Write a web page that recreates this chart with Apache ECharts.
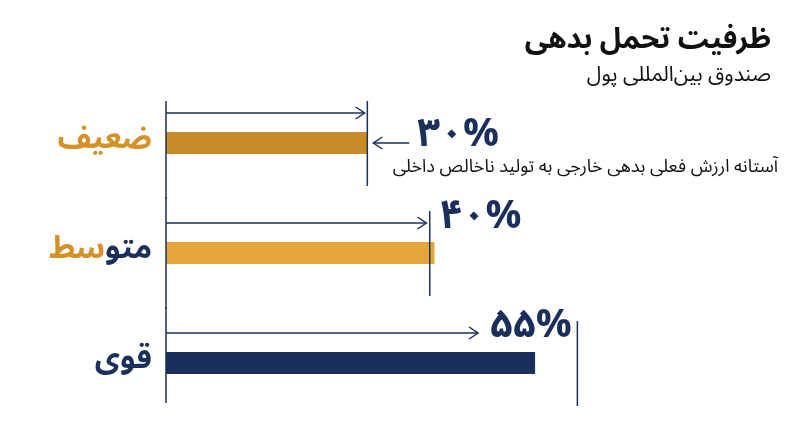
<!DOCTYPE html>
<html><head><meta charset="utf-8">
<script src="https://cdn.jsdelivr.net/npm/echarts@6/dist/echarts.min.js"></script>
<style>html,body{margin:0;background:#fff}#c{width:800px;height:447px}</style>
</head><body><div id="c"></div>
<script>
const categories = ['ضعیف', 'متوسط', 'قوی'];
const values = [30, 40, 55];
const valueLabels = ['۳۰%', '۴۰%', '۵۵%'];
const markerValues = [30, 39.3, 61.3];
const arrowEnds = [29.6, 38.8, 46.5];
const barColors = ['#C98A2A', '#E5A53C', '#1B2F5C'];
const NAVY = '#1B2F5C';
const F = "'Noto Sans Arabic','DejaVu Sans',sans-serif";

const chart = echarts.init(document.getElementById('c'));
chart.setOption({
  animation: false,
  title: [
    {text: 'ظرفیت تحمل بدهی', right: 24, top: 24, textStyle: {fontFamily: F, fontSize: 29, fontWeight: 'bold', color: '#111'}},
    {text: 'صندوق بین‌المللی پول', right: 24, top: 62, textStyle: {fontFamily: F, fontSize: 21, fontWeight: 'normal', color: '#111'}}
  ],
  grid: {left: 166, right: 228, top: 88, bottom: 29},
  xAxis: {type: 'value', min: 0, max: 60.5, show: false},
  yAxis: {
    type: 'category', data: categories, inverse: true,
    axisLine: {show: false}, axisTick: {show: false},
    axisLabel: {
      margin: 14, fontFamily: F, fontSize: 31, fontWeight: 'bold',
      formatter: (v, i) => i === 0 ? '{o|' + v + '}' : i === 1 ? '{o|سط}{n|متو}' : '{n|' + v + '}',
      rich: {
        o: {color: '#D59127', fontFamily: F, fontSize: 31, fontWeight: 'bold'},
        n: {color: NAVY, fontFamily: F, fontSize: 31, fontWeight: 'bold'}
      }
    }
  },
  series: [
    {type: 'bar', barWidth: 22, data: values.map((v, i) => ({value: v, itemStyle: {color: barColors[i]}})), z: 2},
    {
      type: 'custom', z: 3,
      data: categories.map((c, i) => [i]),
      renderItem: (params, api) => {
        const i = api.value(0);
        const c = api.coord([0, i]);
        const cy = c[1], x0 = c[0];
        const xm = api.coord([markerValues[i], i])[0];
        const xa = api.coord([arrowEnds[i], i])[0];
        const ay = cy - 30;
        const ls = {stroke: NAVY, lineWidth: 1.5};
        const ch = [];
        const top = i === 0 ? cy - 42 : cy - 56;
        const bot = i === 2 ? cy + 40 : cy + 56;
        ch.push({type: 'line', shape: {x1: x0, y1: top, x2: x0, y2: bot}, style: ls});
        ch.push({type: 'line', shape: {x1: xm, y1: cy - 42, x2: xm, y2: cy + 43}, style: ls});
        ch.push({type: 'line', shape: {x1: x0, y1: ay, x2: xa, y2: ay}, style: ls});
        ch.push({type: 'polyline', shape: {points: [[xa - 9, ay - 6], [xa, ay], [xa - 9, ay + 6]]}, style: Object.assign({fill: null}, ls)});
        if (i === 0) {
          ch.push({type: 'line', shape: {x1: xm + 6, y1: cy, x2: xm + 42, y2: cy}, style: ls});
          ch.push({type: 'polyline', shape: {points: [[xm + 15, cy - 6], [xm + 6, cy], [xm + 15, cy + 6]]}, style: Object.assign({fill: null}, ls)});
          ch.push({type: 'text', style: {text: valueLabels[i], x: xm + 50, y: cy - 3, verticalAlign: 'middle', fontFamily: F, fontSize: 40, fontWeight: 'bold', fill: NAVY}});
        } else if (i === 1) {
          ch.push({type: 'text', style: {text: valueLabels[i], x: xm + 10, y: ay - 1, verticalAlign: 'middle', fontFamily: F, fontSize: 40, fontWeight: 'bold', fill: NAVY}});
        } else {
          ch.push({type: 'text', style: {text: valueLabels[i], x: xa + 12, y: ay - 2, verticalAlign: 'middle', fontFamily: F, fontSize: 40, fontWeight: 'bold', fill: NAVY}});
        }
        return {type: 'group', children: ch};
      }
    }
  ],
  graphic: [{type: 'text', right: 22, top: 160, style: {text: 'آستانه ارزش فعلی بدهی خارجی به تولید ناخالص داخلی', fontFamily: F, fontSize: 18, fill: '#111'}}]
});
</script></body></html>
